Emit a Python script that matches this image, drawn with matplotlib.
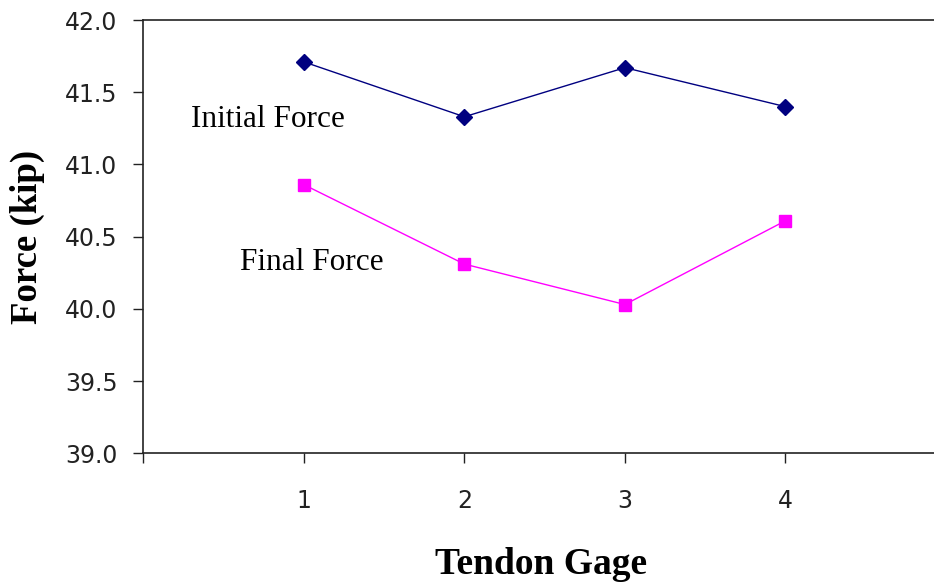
import matplotlib
matplotlib.use("Agg")
import matplotlib.pyplot as plt

gages = [1, 2, 3, 4]
initial_force = [41.71, 41.33, 41.67, 41.40]
final_force = [40.86, 40.31, 40.03, 40.61]
y_ticks = [39.0, 39.5, 40.0, 40.5, 41.0, 41.5, 42.0]
x_tick_labels = ["1", "2", "3", "4"]

W, H = 934, 584
fig = plt.figure(figsize=(W / 100, H / 100), dpi=100)
left = 143.3 / W
bottom = 1 - 453.3 / H
width = (946 - 143.3) / W
height = (453.3 - 20) / H
ax = fig.add_axes([left, bottom, width, height])

ax.plot(gages, initial_force, color="#000080", lw=1.0, marker="D", ms=8,
        markerfacecolor="#000080", markeredgecolor="#000080")
ax.plot(gages, final_force, color="#FF00FF", lw=1.0, marker="s", ms=8,
        markerfacecolor="#FF00FF", markeredgecolor="#FF00FF")

ax.set_xlim(0, 5)
ax.set_ylim(39.0, 42.0)
ax.set_xticks([0, 1, 2, 3, 4, 5])
ax.set_xticklabels([""] + x_tick_labels + [""])
ax.set_yticks(y_ticks)
ax.set_yticklabels([f"{v:.1f}" for v in y_ticks])

for s in ax.spines.values():
    s.set_color("#222222")
    s.set_linewidth(1.2)

ax.tick_params(axis="y", direction="out", length=7.5, width=1.0, pad=11,
               labelsize=17, labelcolor="#222222", color="#222222")
ax.tick_params(axis="x", direction="out", length=7.5, width=1.0, pad=18,
               labelsize=17, labelcolor="#222222", color="#222222")
for lab in ax.get_xticklabels() + ax.get_yticklabels():
    lab.set_fontfamily("DejaVu Sans")

ax.text(0.30, 41.26, "Initial Force", family="Liberation Serif", fontsize=22.5,
        ha="left", va="baseline")
ax.text(0.605, 40.27, "Final Force", family="Liberation Serif", fontsize=22.5,
        ha="left", va="baseline")

fig.text(27 / W, 1 - 237 / H, "Force (kip)", family="Liberation Serif",
         fontsize=26.5, fontweight="bold", rotation=90, ha="center", va="center")
fig.text(541 / W, 1 - 564 / H, "Tendon Gage", family="Liberation Serif",
         fontsize=27, fontweight="bold", ha="center", va="center")

fig.savefig("out.png", dpi=100)
